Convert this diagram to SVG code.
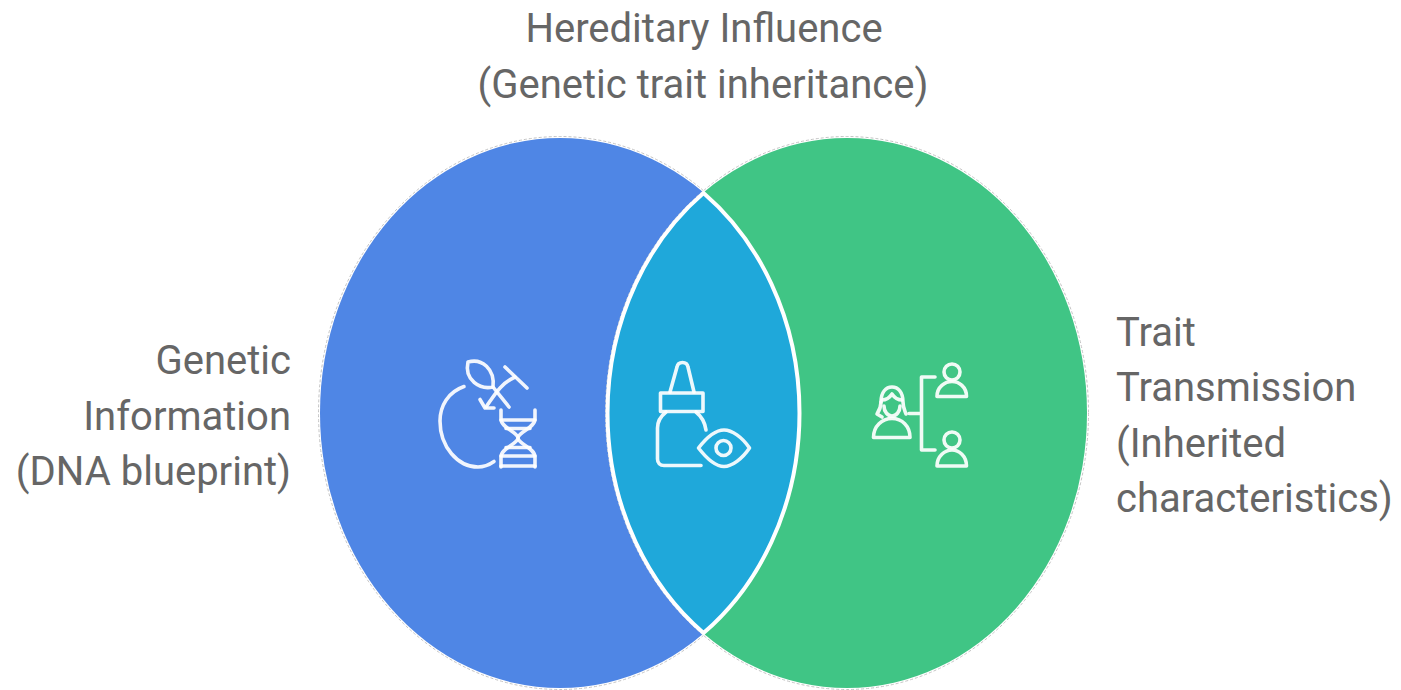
<svg xmlns="http://www.w3.org/2000/svg" width="1401" height="690" viewBox="0 0 1401 690">
<style>
text{font-family:Roboto,"Liberation Sans",sans-serif;font-size:40px;fill:#666}
.i{fill:none;stroke:#fff;stroke-width:3.600;stroke-linecap:round;stroke-linejoin:round;opacity:.92}
.o{fill:none;stroke:#c4c4c4;stroke-width:1;stroke-dasharray:3 2}
</style>
<rect width="1401" height="690" fill="#fff"/>
<g id="set-left"><ellipse cx="560" cy="413" rx="240" ry="275" fill="#4f86e5"/><ellipse class="o" cx="560" cy="413" rx="241.500" ry="276.500"/></g>
<g id="set-right"><ellipse cx="847" cy="413" rx="240" ry="275" fill="#40c585"/><ellipse class="o" cx="847" cy="413" rx="241.500" ry="276.500"/></g>
<g id="set-overlap">
<path d="M703.500 193A240 275 0 0 1 703.500 633A240 275 0 0 1 703.500 193Z" fill="#1fa8da" stroke="#fff" stroke-width="4"/>
</g>
<g id="icon-left">
<path class="i" d="M464 386.500C448 392 440 406 440 421C440 447 458 467 478 467C484 467 489 465 494 461.500"/>
<path class="i" d="M468 362C482 358 495 369 493 387C480 390 464 380 468 362Z"/>
<path class="i" d="M493 387L509 407"/>
<path class="i" d="M486 407C494 396 500 384 515 377"/>
<path class="i" d="M505 367L527 388"/>
<path class="i" d="M480 399.500L485 408L494 408"/>
<path class="i" d="M501 410V419C501 428 518 432 518 438C518 444 501 448 501 457V467"/>
<path class="i" d="M535 410V419C535 428 518 432 518 438C518 444 535 448 535 457V467"/>
<path class="i" d="M501 420H535M506 428.500H530M506 447.500H530M501 456H535M501 466H535"/>
</g>
<g id="icon-center">
<path class="i" d="M670 392L677 367C678 361 687 361 688 367L694 392"/>
<path class="i" d="M660.500 393H703V411.500H660.500Z"/>
<path class="i" d="M666 412C661 416 657.500 421 657.500 428V459C657.500 463 660 465.500 664 465.500H701"/>
<path class="i" d="M696 412C701 416 705 423 706 430"/>
<path class="i" d="M698.500 448C707 437 716 430 724 430C732 430 742 437 749.500 448C742 459 732 466.500 724 466.500C716 466.500 707 459 698.500 448Z"/>
<circle class="i" cx="723.500" cy="448" r="7.500"/>
</g>
<g id="icon-right">
<path class="i" d="M881 402C881 392 886 387 892 387C898 387 903 392 903 402C903 408 905 411 906 414"/>
<path class="i" d="M881 402C881 408 879 411 877 414L882 417"/>
<path class="i" d="M882 400C887 400 890 397 892 394C894 397 897 400 902 400"/>
<path class="i" d="M884 406C884 412 888 416 892 416C896 416 900 412 900 406"/>
<path class="i" d="M873.500 437.500C873.500 426 882 418.500 892 418.500C902 418.500 910 426 910 437.500Z"/>
<path class="i" d="M909 413.500H921.500M935 377H921.500V450H935"/>
<circle class="i" cx="952" cy="372" r="8"/>
<path class="i" d="M937 396.500C937 387 945 381.500 952 381.500C959 381.500 966.500 387 966.500 396.500Z"/>
<circle class="i" cx="952" cy="440" r="8"/>
<path class="i" d="M937 466C937 456 945 450 952 450C959 450 966.500 456 966.500 466Z"/>
</g>
<g id="label-top" text-anchor="middle"><text x="704" y="42">Hereditary Influence</text><text x="703" y="98">(Genetic trait inheritance)</text></g>
<g id="label-left" text-anchor="end"><text x="291" y="374">Genetic</text><text x="291" y="430">Information</text><text x="291" y="485">(DNA blueprint)</text></g>
<g id="label-right"><text x="1116" y="346">Trait</text><text x="1116" y="401">Transmission</text><text x="1116" y="457">(Inherited</text><text x="1116" y="512">characteristics)</text></g>
</svg>
